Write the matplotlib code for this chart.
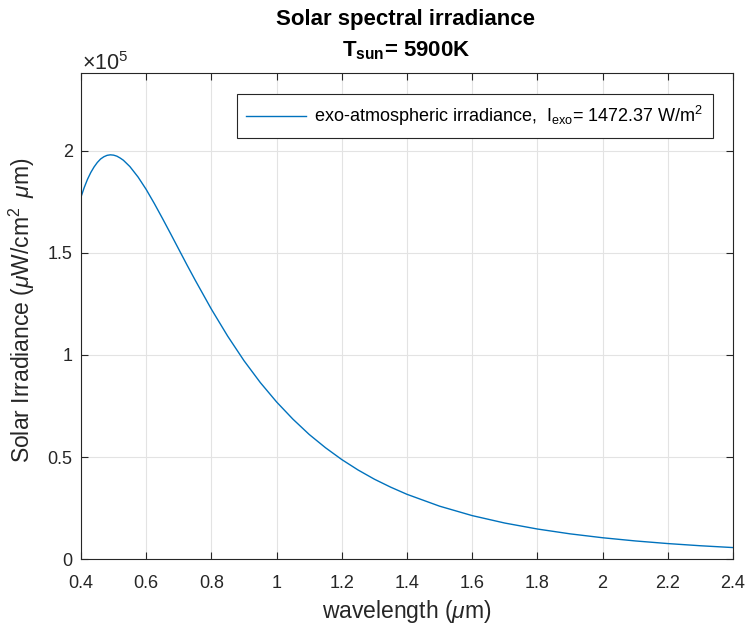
import matplotlib
matplotlib.use("Agg")
import matplotlib.pyplot as plt
from matplotlib.ticker import FixedLocator

# wavelength (um) and irradiance (uW/cm^2 um)
wavelength = [0.40, 0.41, 0.42, 0.43, 0.44, 0.45, 0.46, 0.47, 0.48, 0.49,
              0.50, 0.51, 0.52, 0.53, 0.55, 0.575, 0.60, 0.625, 0.65, 0.675,
              0.70, 0.725, 0.75, 0.80, 0.85, 0.90, 0.95, 1.00, 1.05, 1.10,
              1.15, 1.20, 1.25, 1.30, 1.35, 1.40, 1.50, 1.60, 1.70, 1.80,
              1.90, 2.00, 2.10, 2.20, 2.30, 2.40]
irradiance = [177300, 182000, 186000, 189300, 192000, 194200, 195900, 197000,
              197700, 197950, 197800, 197300, 196400, 195300, 192200, 187100,
              181000, 174100, 166800, 159300, 151700, 144100, 136700, 122400,
              109200, 97200, 86500, 77000, 68600, 61100, 54600, 48800, 43700,
              39200, 35300, 31800, 26000, 21380, 17740, 14820, 12460, 10550,
              8990, 7700, 6630, 5740]

x_ticks = [0.4, 0.6, 0.8, 1.0, 1.2, 1.4, 1.6, 1.8, 2.0, 2.2, 2.4]
x_ticklabels = ["0.4", "0.6", "0.8", "1", "1.2", "1.4", "1.6", "1.8", "2", "2.2", "2.4"]
y_ticks = [0, 50000, 100000, 150000, 200000]
y_ticklabels = ["0", "0.5", "1", "1.5", "2"]

FONT = ["Liberation Sans", "DejaVu Sans"]
plt.rcParams["font.family"] = FONT
plt.rcParams["mathtext.fontset"] = "custom"
plt.rcParams["mathtext.rm"] = "Liberation Sans"
plt.rcParams["mathtext.it"] = "Liberation Sans:italic"
plt.rcParams["mathtext.bf"] = "Liberation Sans:bold"

W, H = 746, 631
dark = "#262626"
fig = plt.figure(figsize=(W/100, H/100), dpi=100)
L, R, T, B = 81, 733, 73, 559.3
ax = fig.add_axes([L/W, 1 - B/H, (R-L)/W, (B-T)/H])

ax.plot(wavelength, irradiance, color="#0072BD", lw=1.0,
        label=r"exo-atmospheric irradiance,  I$_{\mathrm{exo}}$= 1472.37 W/m$^2$")

ax.set_xlim(0.4, 2.4)
ax.set_ylim(0, 238000)
ax.xaxis.set_major_locator(FixedLocator(x_ticks))
ax.set_xticklabels(x_ticklabels)
ax.yaxis.set_major_locator(FixedLocator(y_ticks))
ax.set_yticklabels(y_ticklabels)

ax.grid(True, color="#e3e3e3", lw=0.8)
ax.set_axisbelow(True)
ax.tick_params(direction="in", top=True, right=True, length=5, width=0.8,
               colors=dark, labelsize=13)
ax.tick_params(axis="x", pad=11)
ax.tick_params(axis="y", pad=6)
for s in ax.spines.values():
    s.set_color(dark)
    s.set_linewidth(0.8)

ax.set_xlabel(r"wavelength ($\mu$m)", fontsize=16.5, color=dark)
ax.xaxis.set_label_coords(0.5, (B - 598) / (B - T))
ax.set_ylabel(r"Solar Irradiance ($\mu$W/cm$^2$ $\,\mu$m)", fontsize=16.5, color=dark)
ax.yaxis.set_label_coords((37 - L) / (R - L), (B - 310) / (B - T))

fig.text(82/W, 1 - 70/H, r"$\times$10$^5$", fontsize=15.5,
         color=dark, ha="left", va="baseline")

fig.text(406/W, 1 - 25/H, "Solar spectral irradiance", fontsize=16,
         fontweight="bold", ha="center", va="baseline", color="black")
fig.text(406/W, 1 - 56/H, r"$\mathbf{T_{sun}}$= 5900K", fontsize=16,
         fontweight="bold", ha="center", va="baseline", color="black")

leg = ax.legend(loc="upper right", bbox_to_anchor=(713/W, 1 - 94/H),
                bbox_transform=fig.transFigure, borderaxespad=0, fontsize=13,
                frameon=True, fancybox=False, edgecolor=dark, handlelength=3.3,
                handletextpad=0.45, borderpad=0.55, framealpha=1)
leg.get_frame().set_linewidth(0.8)

fig.savefig("out.png", dpi=100)
